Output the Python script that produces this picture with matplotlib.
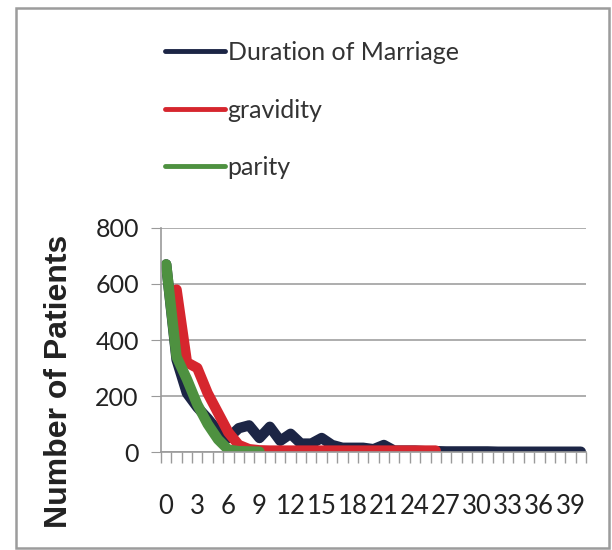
import matplotlib
matplotlib.use("Agg")
import matplotlib.pyplot as plt
from matplotlib.patches import Rectangle
from matplotlib.ticker import MultipleLocator, FixedLocator
import numpy as np

nan = np.nan

# categories 0..40
categories = list(range(41))

duration = [670, 330, 210, 160, 120, 75, 50, 85, 95, 50, 90, 40, 65, 30, 30, 50,
            25, 15, 15, 15, 10, 25, 5, 5, 5, 3, 3, 2, 2, 2, 2, 2, 1, 1, 1, 1,
            1, 1, 1, 1, 1]
gravidity = [nan, 580, 320, 300, 210, 140, 70, 25, 10, 6, 5, 5, 5, 5, 5, 5,
             5, 5, 5, 5, 5, 5, 5, 5, 5, 5, 5, nan, nan, nan, nan, nan, nan, nan, nan, nan,
             nan, nan, nan, nan, nan]
parity = [670, 340, 260, 170, 100, 45, 8, 3, 2, 1] + [nan] * 31

series_names = ["Duration of Marriage", "gravidity", "parity"]
colors = ["#1c2545", "#d6262e", "#4e9140"]

plt.rcParams["font.family"] = ["Lato", "DejaVu Sans"]

fig = plt.figure(figsize=(6.12, 5.5), dpi=100)
ax = fig.add_axes([161 / 612, 1 - 452 / 550, 425 / 612, 224 / 550])

x = np.array(categories)
for vals, name, c in zip([duration, gravidity, parity], series_names, colors):
    ax.plot(x, vals, color=c, lw=7.5, label=name, solid_capstyle="round",
            solid_joinstyle="round")

ax.set_xlim(-0.5, len(categories) - 0.5)
ax.set_ylim(0, 800)
ax.yaxis.set_major_locator(MultipleLocator(200))
ax.grid(axis="y", color="#a0a0a0", lw=1.2)
ax.set_axisbelow(True)

ax.xaxis.set_major_locator(FixedLocator(categories[::3]))
ax.set_xticklabels([str(c) for c in categories[::3]])
ax.xaxis.set_minor_locator(FixedLocator(np.arange(-0.5, len(categories), 1)))
ax.tick_params(axis="x", which="major", length=0, pad=30, labelsize=18.5, labelcolor="#222222")
ax.tick_params(axis="x", which="minor", length=8, color="#9a9a9a", width=1)
ax.tick_params(axis="y", length=7, color="#9a9a9a", pad=9, labelsize=18, labelcolor="#222222")

for s in ["top", "right"]:
    ax.spines[s].set_visible(False)
for s in ["left", "bottom"]:
    ax.spines[s].set_color("#9a9a9a")
    ax.spines[s].set_linewidth(1.2)

fig.text(59 / 612, 1 - 381 / 550, "Number of Patients", rotation=90, ha="center",
         va="center", fontsize=23, fontweight="bold", family="Liberation Sans",
         color="#222222")

leg = ax.legend(loc="upper left", bbox_to_anchor=(165 / 612, 1 - 41 / 550),
                bbox_transform=fig.transFigure, frameon=False, fontsize=18,
                handlelength=2.4, handletextpad=0.1, labelspacing=1.38,
                borderpad=0, borderaxespad=0)
for line in leg.get_lines():
    line.set_linewidth(3.5)
for t in leg.get_texts():
    t.set_color("#333333")

fig.patches.append(Rectangle((16 / 612, 2 / 550), 593 / 612, 540 / 550,
                             transform=fig.transFigure, fill=False,
                             edgecolor="#9c9c9c", lw=1.8))

fig.savefig("out.png", dpi=100)
